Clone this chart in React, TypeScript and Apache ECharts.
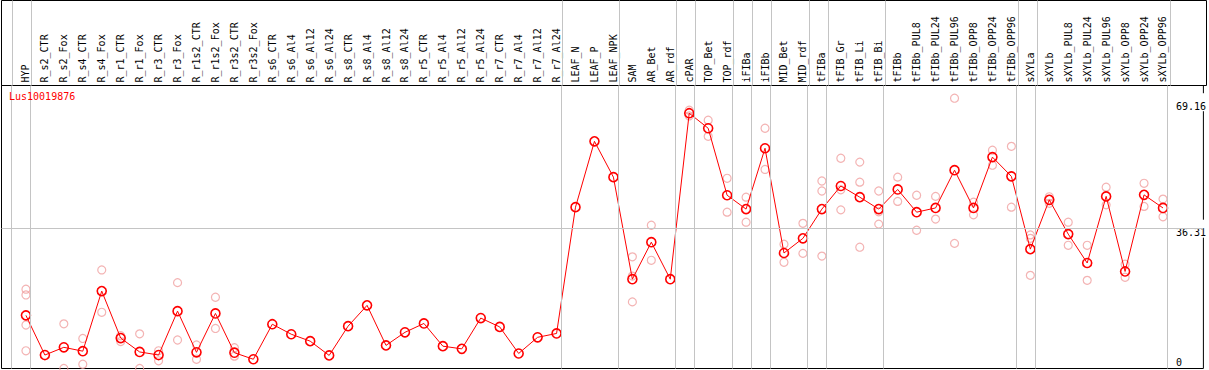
import React, { useEffect, useRef } from "react";
import * as echarts from "echarts";

const categories = [
  "HYP", "R_s2_CTR", "R_s2_Fox", "R_s4_CTR", "R_s4_Fox", "R_r1_CTR", "R_r1_Fox", "R_r3_CTR", "R_r3_Fox",
  "R_r1s2_CTR", "R_r1s2_Fox", "R_r3s2_CTR", "R_r3s2_Fox", "R_s6_CTR", "R_s6_Al4", "R_s6_Al12", "R_s6_Al24",
  "R_s8_CTR", "R_s8_Al4", "R_s8_Al12", "R_s8_Al24", "R_r5_CTR", "R_r5_Al4", "R_r5_Al12", "R_r5_Al24",
  "R_r7_CTR", "R_r7_Al4", "R_r7_Al12", "R_r7_Al24", "LEAF_N", "LEAF_P", "LEAF_NPK", "SAM", "AR_Bet", "AR_rdf",
  "cPAR", "TOP_Bet", "TOP_rdf", "iFIBa", "iFIBb", "MID_Bet", "MID_rdf", "tFIBa", "tFIB_Gr", "tFIB_Li", "tFIB_Bi",
  "tFIBb", "tFIBb_PUL8", "tFIBb_PUL24", "tFIBb_PUL96", "tFIBb_OPP8", "tFIBb_OPP24", "tFIBb_OPP96",
  "sXYLa", "sXYLb", "sXYLb_PUL8", "sXYLb_PUL24", "sXYLb_PUL96", "sXYLb_OPP8", "sXYLb_OPP24", "sXYLb_OPP96",
];

const means = [
  13.8, 3.5, 5.5, 4.5, 20.1, 7.9, 4.3, 3.5, 14.9,
  4.2, 14.3, 4.1, 2.4, 11.5, 8.9, 7.1, 3.4,
  11.0, 16.4, 6.0, 9.4, 11.7, 5.8, 5.1, 13.1,
  10.8, 3.9, 8.1, 9.1, 41.9, 59.0, 49.7, 23.2, 32.8, 23.2,
  66.3, 62.4, 45.0, 41.4, 57.2, 30.0, 33.8, 41.4, 47.4, 44.5, 41.4,
  46.5, 40.6, 41.7, 51.5, 41.7, 54.9, 49.9,
  31.0, 43.8, 34.9, 27.4, 44.7, 25.2, 45.1, 41.7,
];

const replicates: number[][] = [
  [20.6, 19.1, 11.3, 4.6], [], [11.6, 0], [7.8, 1.1], [25.6, 14.6], [8.5, 7.0], [9.0, 0], [4.6, 2.0], [22.3, 7.4],
  [6.1, 2.4], [18.5, 10.4], [5.4, 3.2], [], [], [], [], [],
  [], [], [], [], [], [], [], [],
  [], [], [], [], [], [], [], [29.0, 24.0, 17.3], [37.2, 28.1], [],
  [67.1, 65.6], [64.5, 60.3], [49.4, 40.6], [44.5, 38.0], [62.4, 51.7], [32.3, 27.6], [37.7, 29.9],
  [48.7, 46.1, 29.2], [54.6, 46.4, 41.2], [53.6, 48.4, 31.5], [46.1, 40.7, 37.5],
  [49.7, 43.4], [45.0, 35.9], [44.7, 38.8], [70.2, 32.5], [43.2, 39.9], [56.7, 52.8], [57.7, 41.9],
  [34.7, 33.8, 24.2], [44.6, 42.9], [38.0, 32.0], [32.0, 22.9], [47.1, 42.5], [27.1, 23.7], [48.1, 42.1], [44.0, 39.4],
];

// index of the last category of each group (-1 = before the first one)
const groupEnds = [-1, 0, 28, 31, 34, 35, 37, 38, 39, 41, 42, 45, 52, 53, 60];

const yTickValues = [0, 36.31, 69.16];
const yTickLabels = ["0", "36.31", "69.16"];
const title = "Lus10019876";

const FONT = "DejaVu Sans Mono";
const GRID_GRAY = "#c4c4c4";
const X_MIN = -1.2895;
const X_MAX = 62.132;
const Y_MAX = 73.5;

export default function App() {
  const ref = useRef<HTMLDivElement>(null);

  useEffect(() => {
    if (!ref.current) return;
    const chart = echarts.init(ref.current, null, { renderer: "svg" });

    const repData: number[][] = [];
    replicates.forEach((reps, i) => reps.forEach((v) => repData.push([i, v])));
    const meanData = means.map((v, i) => [i, v]);
    const vLines = groupEnds.map((k) => ({ xAxis: k + 0.25 }));

    const markLineBase = {
      silent: true,
      symbol: "none",
      label: { show: false },
      lineStyle: { color: GRID_GRAY, width: 1, type: "solid" },
      animation: false,
    };

    chart.setOption({
      animation: false,
      backgroundColor: "#fff",
      title: {
        text: title,
        left: 9,
        top: 91,
        padding: 0,
        textStyle: { color: "#ff0000", fontSize: 10, fontFamily: FONT, fontWeight: "normal" },
      },
      grid: [
        { left: 1.5, right: 2.5, top: 0.5, height: 85, show: true, borderColor: "#000", borderWidth: 1, backgroundColor: "transparent" },
        { left: 1.5, right: 2.5, top: 85.5, bottom: 1.5, show: true, borderColor: "#000", borderWidth: 1, backgroundColor: "transparent" },
      ],
      xAxis: [
        { gridIndex: 0, type: "value", min: X_MIN, max: X_MAX, show: false },
        {
          gridIndex: 1,
          type: "value",
          min: X_MIN,
          max: X_MAX,
          position: "top",
          axisLine: { show: false },
          axisTick: { show: false },
          splitLine: { show: false },
          axisLabel: {
            customValues: categories.map((_, i) => i),
            formatter: (v: number) => categories[Math.round(v)] ?? "",
            rotate: 90,
            margin: 3,
            color: "#000",
            fontSize: 10,
            fontFamily: FONT,
            showMinLabel: true,
            showMaxLabel: true,
          },
        },
      ],
      yAxis: [
        { gridIndex: 0, type: "value", min: 0, max: 1, show: false },
        {
          gridIndex: 1,
          type: "value",
          min: 0,
          max: Y_MAX,
          position: "right",
          axisLine: { show: false },
          axisTick: { show: false },
          splitLine: { show: false },
          axisLabel: {
            inside: true,
            align: "left",
            margin: 27.5,
            customValues: yTickValues,
            formatter: (v: number) => {
              const idx = yTickValues.findIndex((t) => Math.abs(t - v) < 1e-6);
              const txt = idx >= 0 ? yTickLabels[idx] : "";
              return v === 0 ? "{lo|" + txt + "}" : "{hi|" + txt + "}";
            },
            color: "#000",
            fontSize: 10,
            fontFamily: FONT,
            showMinLabel: true,
            showMaxLabel: true,
            rich: {
              hi: { fontSize: 10, fontFamily: FONT, color: "#000", backgroundColor: "#fff", padding: [8, 0, 0, 0] },
              lo: { fontSize: 10, fontFamily: FONT, color: "#000", padding: [0, 0, 13, 0] },
            },
          },
        },
      ],
      series: [
        {
          type: "scatter",
          xAxisIndex: 0,
          yAxisIndex: 0,
          data: [[0, -5]],
          symbol: "none",
          silent: true,
          markLine: { ...markLineBase, data: vLines },
        },
        {
          type: "scatter",
          xAxisIndex: 1,
          yAxisIndex: 1,
          data: [[0, -5]],
          symbol: "none",
          silent: true,
          markLine: { ...markLineBase, data: [...vLines, { yAxis: yTickValues[1] }] },
        },
        {
          type: "scatter",
          xAxisIndex: 1,
          yAxisIndex: 1,
          data: repData,
          symbol: "circle",
          symbolSize: 8,
          clip: false,
          itemStyle: { color: "rgba(0,0,0,0)", borderColor: "#f0a0a0", borderWidth: 1.2 },
          z: 3,
        },
        {
          type: "line",
          xAxisIndex: 1,
          yAxisIndex: 1,
          data: meanData,
          symbol: "circle",
          symbolSize: 9,
          showAllSymbol: true,
          lineStyle: { color: "#ff0000", width: 1 },
          itemStyle: { color: "rgba(0,0,0,0)", borderColor: "#ff0000", borderWidth: 1.6 },
          z: 4,
        },
      ],
    });

    return () => chart.dispose();
  }, []);

  return (
    <div
      ref={ref}
      style={{ position: "fixed", left: 0, top: 0, width: 1209, height: 370, background: "#fff" }}
    />
  );
}
